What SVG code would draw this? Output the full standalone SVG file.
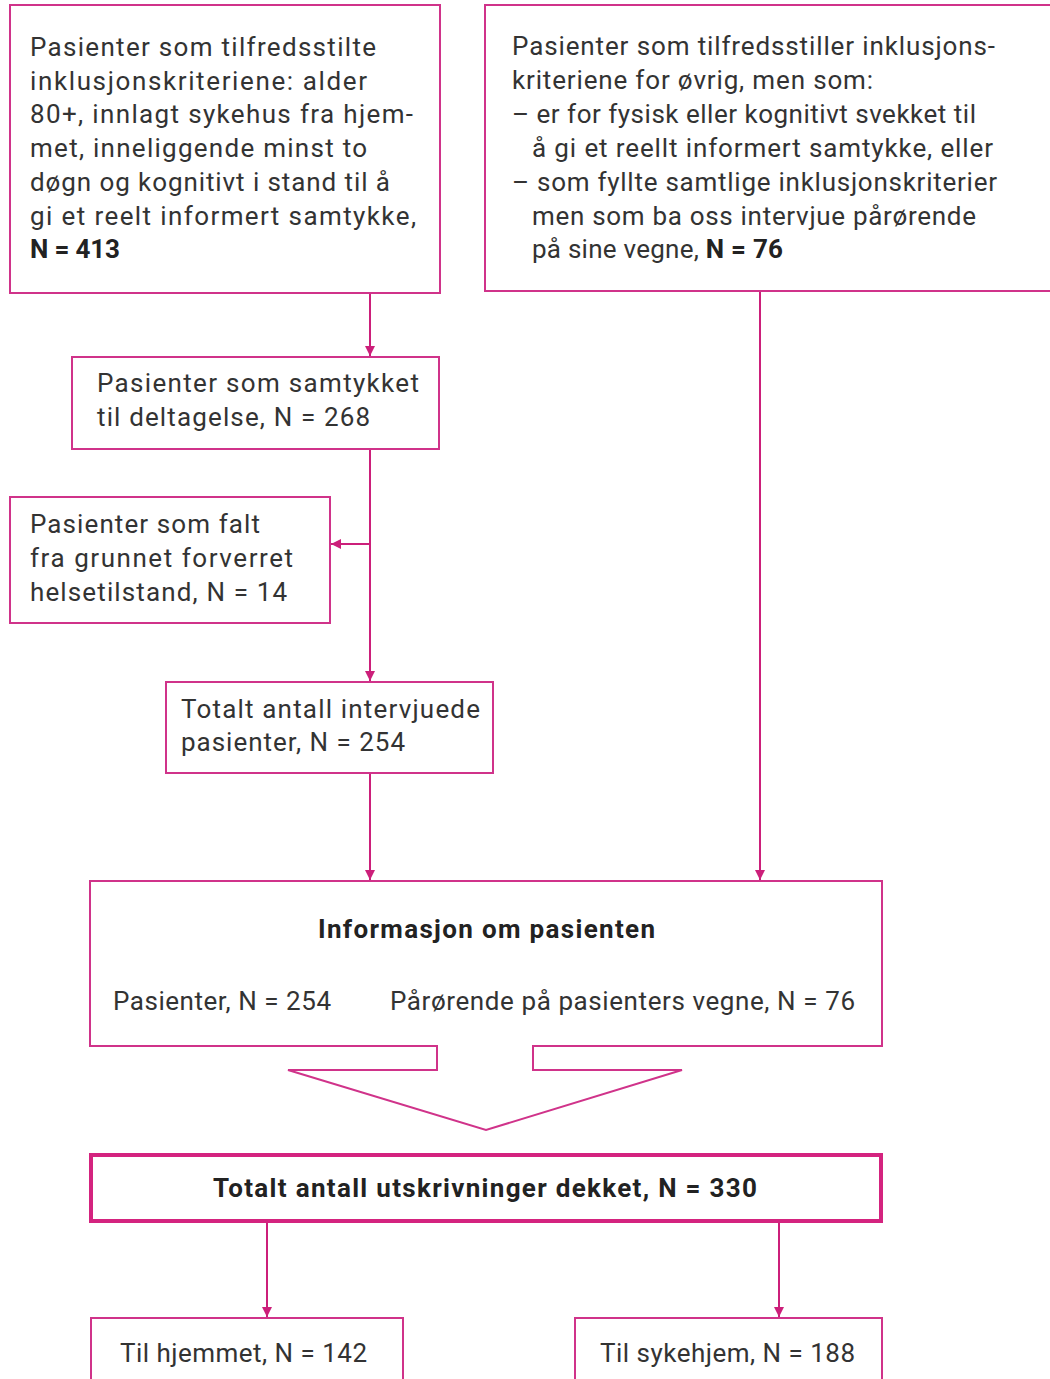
<svg xmlns="http://www.w3.org/2000/svg" width="1050" height="1379" viewBox="0 0 1050 1379">
<style>
.box{fill:#fff;stroke:#d0338a;stroke-width:2}
.thick{fill:#fff;stroke:#d4237f;stroke-width:4}
.t{font-family:Roboto,"Liberation Sans",sans-serif;font-size:26px;fill:#333;}
.b{font-weight:bold;fill:#222}
.c{stroke:#cc1f7a;stroke-width:2;fill:none}
</style>
<defs>
<marker id="ah" viewBox="0 0 10 10" refX="10" refY="5" markerWidth="10" markerHeight="10" markerUnits="userSpaceOnUse" orient="auto">
<path d="M0,0 L10,5 L0,10 z" fill="#cc1f7a"/>
</marker>
</defs>
<rect width="1050" height="1379" fill="#fff"/>
<g id="connectors">
<line class="c" x1="370" y1="293" x2="370" y2="356" marker-end="url(#ah)"/>
<line class="c" x1="370" y1="449" x2="370" y2="681" marker-end="url(#ah)"/>
<line class="c" x1="370" y1="544" x2="331" y2="544" marker-end="url(#ah)"/>
<line class="c" x1="370" y1="773" x2="370" y2="880" marker-end="url(#ah)"/>
<line class="c" x1="760" y1="291" x2="760" y2="880" marker-end="url(#ah)"/>
<line class="c" x1="267" y1="1222" x2="267" y2="1317" marker-end="url(#ah)"/>
<line class="c" x1="779" y1="1222" x2="779" y2="1317" marker-end="url(#ah)"/>
</g>
<g id="n1">
<rect class="box" x="10" y="5" width="430" height="288"/>
<text class="t" x="30" y="56" textLength="346" lengthAdjust="spacing">Pasienter som tilfredsstilte</text>
<text class="t" x="30" y="90" textLength="337" lengthAdjust="spacing">inklusjonskriteriene: alder</text>
<text class="t" x="30" y="123" textLength="383" lengthAdjust="spacing">80+, innlagt sykehus fra hjem-</text>
<text class="t" x="30" y="157" textLength="337" lengthAdjust="spacing">met, inneliggende minst to</text>
<text class="t" x="30" y="191" textLength="360" lengthAdjust="spacing">døgn og kognitivt i stand til å</text>
<text class="t" x="30" y="225" textLength="386" lengthAdjust="spacing">gi et reelt informert samtykke,</text>
<text class="t b" x="30" y="258" textLength="90" lengthAdjust="spacing">N = 413</text>
</g>
<g id="n2">
<rect class="box" x="485" y="5" width="575" height="286"/>
<text class="t" x="512" y="55" textLength="483" lengthAdjust="spacing">Pasienter som tilfredsstiller inklusjons-</text>
<text class="t" x="512" y="89" textLength="361" lengthAdjust="spacing">kriteriene for øvrig, men som:</text>
<text class="t" x="512" y="123" textLength="464" lengthAdjust="spacing">– er for fysisk eller kognitivt svekket til</text>
<text class="t" x="532" y="157" textLength="461" lengthAdjust="spacing">å gi et reellt informert samtykke, eller</text>
<text class="t" x="512" y="191" textLength="485" lengthAdjust="spacing">– som fyllte samtlige inklusjonskriterier</text>
<text class="t" x="532" y="225" textLength="444" lengthAdjust="spacing">men som ba oss intervjue pårørende</text>
<text class="t" x="532" y="258" textLength="251" lengthAdjust="spacing">på sine vegne, <tspan class="b">N = 76</tspan></text>
</g>
<g id="n3">
<rect class="box" x="72" y="357" width="367" height="92"/>
<text class="t" x="97" y="392" textLength="322" lengthAdjust="spacing">Pasienter som samtykket</text>
<text class="t" x="97" y="426" textLength="273" lengthAdjust="spacing">til deltagelse, N = 268</text>
</g>
<g id="n4">
<rect class="box" x="10" y="497" width="320" height="126"/>
<text class="t" x="30" y="533" textLength="230" lengthAdjust="spacing">Pasienter som falt</text>
<text class="t" x="30" y="567" textLength="263" lengthAdjust="spacing">fra grunnet forverret</text>
<text class="t" x="30" y="601" textLength="257" lengthAdjust="spacing">helsetilstand, N = 14</text>
</g>
<g id="n5">
<rect class="box" x="166" y="682" width="327" height="91"/>
<text class="t" x="181" y="718" textLength="299" lengthAdjust="spacing">Totalt antall intervjuede</text>
<text class="t" x="181" y="751" textLength="224" lengthAdjust="spacing">pasienter, N = 254</text>
</g>
<g id="n6">
<path class="box" d="M90,881 H882 V1046 H533 V1070 H682 L486,1130 L288,1070 H437 V1046 H90 Z"/>
<text class="t b" x="318" y="938" textLength="337" lengthAdjust="spacing">Informasjon om pasienten</text>
<text class="t" x="113" y="1010" textLength="218" lengthAdjust="spacing">Pasienter, N = 254</text>
<text class="t" x="390" y="1010" textLength="465" lengthAdjust="spacing">Pårørende på pasienters vegne, N = 76</text>
</g>
<g id="n7">
<rect class="thick" x="91" y="1155" width="790" height="66"/>
<text class="t b" x="213" y="1197" textLength="544" lengthAdjust="spacing">Totalt antall utskrivninger dekket, N = 330</text>
</g>
<g id="n8">
<rect class="box" x="91" y="1318" width="312" height="70"/>
<text class="t" x="120" y="1362" textLength="247" lengthAdjust="spacing">Til hjemmet, N = 142</text>
</g>
<g id="n9">
<rect class="box" x="575" y="1318" width="307" height="70"/>
<text class="t" x="600" y="1362" textLength="255" lengthAdjust="spacing">Til sykehjem, N = 188</text>
</g>
</svg>
